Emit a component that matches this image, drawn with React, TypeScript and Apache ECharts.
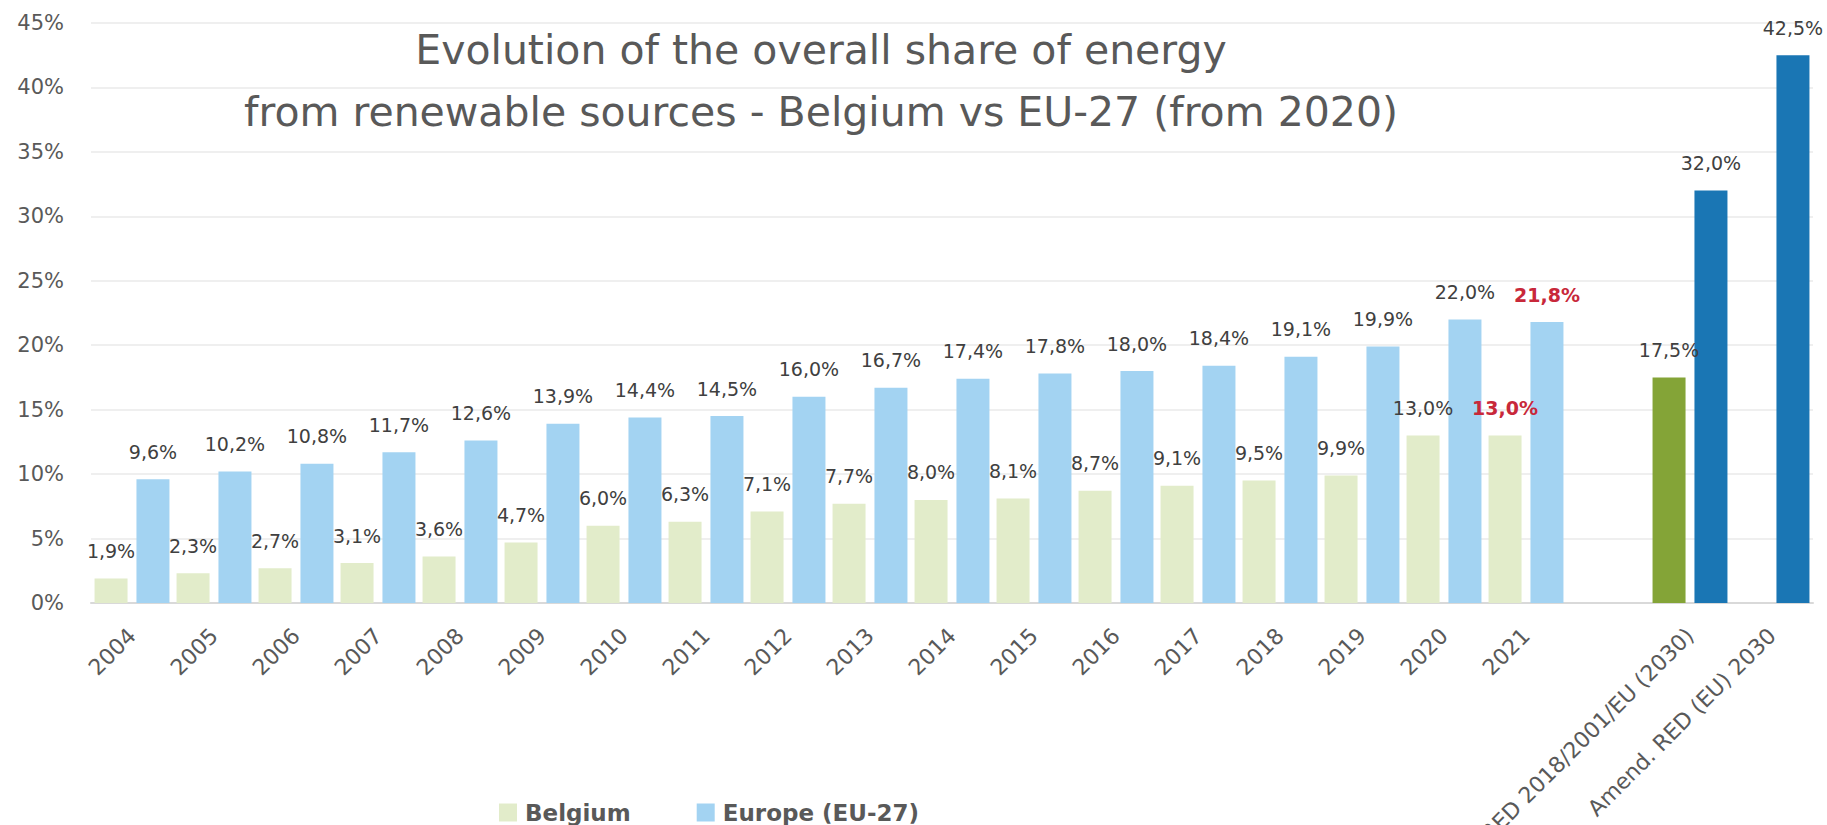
import React, { useEffect, useRef } from "react";
import * as echarts from "echarts";

const categories = [
  "2004", "2005", "2006", "2007", "2008", "2009", "2010", "2011", "2012",
  "2013", "2014", "2015", "2016", "2017", "2018", "2019", "2020", "2021",
  "", "RED 2018/2001/EU (2030)", "Amend. RED (EU) 2030",
];
const belgium = [
  1.9, 2.3, 2.7, 3.1, 3.6, 4.7, 6.0, 6.3, 7.1, 7.7, 8.0, 8.1, 8.7, 9.1, 9.5, 9.9,
  13.0, 13.0, null, 17.5, null,
];
const europe = [
  9.6, 10.2, 10.8, 11.7, 12.6, 13.9, 14.4, 14.5, 16.0, 16.7, 17.4, 17.8, 18.0,
  18.4, 19.1, 19.9, 22.0, 21.8, null, 32.0, 42.5,
];
const yTicks = { min: 0, max: 45, interval: 5 };
const titleText =
  "Evolution of the overall share of energy\nfrom renewable sources - Belgium vs EU-27 (from 2020)";

const FONT = "'DejaVu Sans', sans-serif";
const C_BE = "#E2ECCA";
const C_EU = "#A3D3F2";
const C_TARGET_BE = "#84A437";
const C_TARGET_EU = "#1A76B4";
const C_HIGHLIGHT = "#C8283A";

const fmt = (v: number) => v.toFixed(1).replace(".", ",") + "%";

export default function App() {
  const ref = useRef<HTMLDivElement>(null);
  useEffect(() => {
    document.body.style.margin = "0";
    if (!ref.current) return;
    const chart = echarts.init(ref.current, null, { renderer: "svg" });
    const lastYear = categories.indexOf("2021");
    const targetIdx = categories.indexOf("RED 2018/2001/EU (2030)");
    const amendIdx = categories.indexOf("Amend. RED (EU) 2030");

    const mk = (arr: (number | null)[], targetColor: string) =>
      arr.map((v, i) => {
        if (v === null) return null;
        const item: any = { value: v };
        if (i === targetIdx || i === amendIdx) {
          item.itemStyle = { color: targetColor };
        }
        if (i === lastYear) {
          item.label = { color: C_HIGHLIGHT, fontWeight: "bold" };
        }
        return item;
      });

    const labelCfg = {
      show: true,
      position: "top",
      distance: 18,
      fontFamily: FONT,
      fontSize: 19,
      color: "#404040",
      formatter: (p: any) => fmt(p.value),
    };

    chart.setOption({
      animation: false,
      textStyle: { fontFamily: FONT },
      title: {
        text: titleText,
        left: 821,
        top: 19,
        padding: 0,
        textAlign: "center",
        textStyle: {
          fontFamily: FONT,
          fontSize: 41,
          fontWeight: "normal",
          color: "#595959",
          lineHeight: 62,
        },
      },
      legend: {
        data: ["Belgium", "Europe (EU-27)"],
        left: 499,
        top: 801,
        padding: 0,
        itemWidth: 18,
        itemHeight: 18,
        itemGap: 66,
        icon: "rect",
        textStyle: {
          fontFamily: FONT,
          fontSize: 23,
          fontWeight: "bold",
          color: "#595959",
          padding: [0, 0, 0, 3],
        },
      },
      grid: {
        left: 91,
        right: 14,
        top: 23,
        bottom: 222,
        containLabel: false,
        outerBoundsMode: "none",
      },
      xAxis: {
        type: "category",
        data: categories,
        axisTick: { show: false },
        axisLine: { lineStyle: { color: "#D9D9D9", width: 2 } },
        axisLabel: {
          rotate: 45,
          interval: 0,
          margin: 29,
          fontFamily: FONT,
          fontSize: 22,
          color: "#595959",
        },
      },
      yAxis: {
        type: "value",
        ...yTicks,
        axisLabel: {
          formatter: "{value}%",
          margin: 27,
          fontFamily: FONT,
          fontSize: 21,
          color: "#595959",
        },
        splitLine: { lineStyle: { color: "#EFEFEF", width: 2 } },
        axisLine: { show: false },
        axisTick: { show: false },
      },
      series: [
        {
          name: "Belgium",
          type: "bar",
          data: mk(belgium, C_TARGET_BE),
          barWidth: 33,
          barGap: "27%",
          itemStyle: { color: C_BE },
          label: labelCfg,
        },
        {
          name: "Europe (EU-27)",
          type: "bar",
          data: mk(europe, C_TARGET_EU),
          barWidth: 33,
          barGap: "27%",
          itemStyle: { color: C_EU },
          label: labelCfg,
        },
      ],
    });
    return () => chart.dispose();
  }, []);
  return <div ref={ref} style={{ width: 1827, height: 825 }} />;
}
